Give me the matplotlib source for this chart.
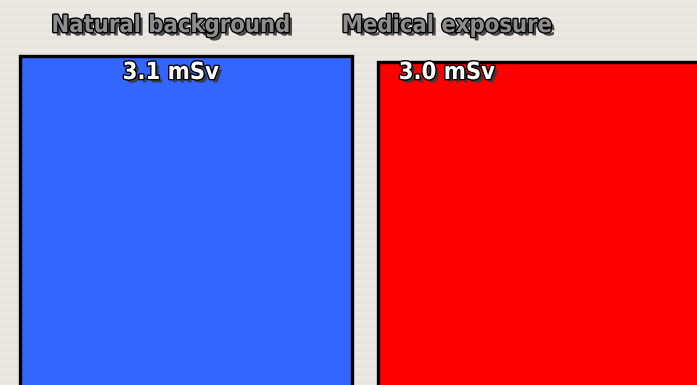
import numpy as np
import matplotlib
matplotlib.use("Agg")
import matplotlib.pyplot as plt
import matplotlib.patheffects as pe

# 데이터
categories = ["Natural background", "Medical exposure"]
doses = [3.1, 3.0]
value_labels = ["3.1 mSv", "3.0 mSv"]
bar_colors = ["#3366ff", "#ff0000"]

# 글꼴
plt.rcParams['font.family'] = ['DejaVu Sans']

fig = plt.figure(figsize=(6.97, 3.85), dpi=100)
fig.patch.set_facecolor("#ebe8e3")

# 배경 줄무늬
bg = fig.add_axes([0, 0, 1, 1], zorder=0)
rows = np.arange(385)
stripes = ((rows // 4) % 2).reshape(-1, 1) * 1.0
bg.imshow(stripes, aspect="auto", cmap=matplotlib.colors.ListedColormap(["#ece9e4", "#e7e4de"]),
          extent=[0, 1, 0, 1])
bg.axis("off")

ax = fig.add_axes([0, 0, 1, 1], zorder=1)
ax.patch.set_alpha(0)
x = np.arange(len(categories))
base = -5  # 막대가 그림 아래로 이어지도록
ax.bar(x, [d - base for d in doses], width=0.927, color=bar_colors, edgecolor="black",
       linewidth=2.4, bottom=base)
ax.set_xlim(-0.5196, 1.427)
ax.set_ylim(-2.383, 4.033)
ax.axis("off")

title_fx = [pe.withSimplePatchShadow(offset=(2.5, -2.5), shadow_rgbFace="#3a3a3a", alpha=0.9),
            pe.withStroke(linewidth=2, foreground="black")]
label_x = [0.245, 0.641]
for lx, name, val in zip(label_x, categories, value_labels):
    ax.text(lx, 0.935, name, transform=ax.transAxes, ha="center", va="center",
            fontsize=17, fontweight="bold", fontstretch="condensed", color="#8e8e8e",
            path_effects=title_fx)
    ax.text(lx, 0.813, val, transform=ax.transAxes, ha="center", va="center",
            fontsize=17, fontweight="bold", fontstretch="condensed", color="white",
            path_effects=title_fx)

fig.savefig("out.png", dpi=100, facecolor=fig.get_facecolor())
